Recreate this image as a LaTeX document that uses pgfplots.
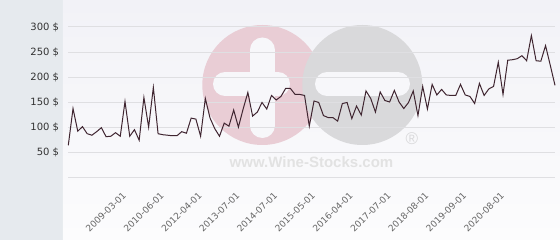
\documentclass[border=0pt]{standalone}
\usepackage{pgfplots}
\pgfplotsset{compat=1.18}
\usepackage{fontspec}
\setmainfont{DejaVu Sans}
\newfontfamily\wmfont{Liberation Sans}
\definecolor{panel}{HTML}{E6EAEE}
\definecolor{bgtop}{HTML}{F2F2F7}
\definecolor{bgbot}{HTML}{FCFCFD}
\definecolor{wmpink}{HTML}{E9CDD5}
\definecolor{wmgray}{HTML}{D9D9DB}
\definecolor{wmbar}{HTML}{F7F7FA}
\definecolor{wmtext}{HTML}{E2E2E2}
\definecolor{gridc}{HTML}{DFDFE2}
\definecolor{linec}{HTML}{3F2530}
\definecolor{ylab}{HTML}{333333}
\definecolor{xlab}{HTML}{666666}
\pgfplotstableread{
i v
1 65
2 138
3 93
4 102
5 88
6 85
7 92
8 100
9 82
10 83
11 90
12 83
13 152
14 83
15 96
16 75
17 160
18 101
19 180
20 88
21 86
22 85
23 84
24 84
25 92
26 89
27 119
28 117
29 83
30 158
31 119
32 98
33 83
34 109
35 103
36 135
37 101
38 137
39 170
40 123
41 131
42 150
43 137
44 164
45 155
46 162
47 178
48 178
49 166
50 166
51 164
52 103
53 153
54 150
55 124
56 120
57 120
58 113
59 148
60 150
61 118
62 143
63 125
64 173
65 158
66 131
67 171
68 154
69 151
70 174
71 151
72 138
73 150
74 173
75 124
76 182
77 137
78 186
79 165
80 176
81 165
82 164
83 164
84 186
85 165
86 162
87 148
88 188
89 164
90 177
91 182
92 230
93 166
94 234
95 235
96 237
97 243
98 233
99 283
100 233
101 232
102 263
103 224
104 184
}\prices
\begin{document}
\begin{tikzpicture}[x=1pt,y=1pt]
\useasboundingbox (-68.3,-62) rectangle (491.7,178);
% backgrounds
\fill[panel] (-68.3,-62) rectangle (-5.3,178);
\fill[top color=bgtop, bottom color=bgbot] (-5.3,-62) rectangle (491.7,178);
% watermark
\fill[wmpink] (194,93) circle[radius=60];
\fill[wmgray] (294,93) circle[radius=60];
\draw[wmbar, line width=25pt, line cap=round] (194,52.5) -- (194,128);
\draw[wmbar, line width=24pt, line cap=round] (156.7,94) -- (209.7,94);
\draw[wmbar, line width=24pt, line cap=round] (258.7,94) -- (329.7,94);
\node[text=wmtext, font=\wmfont\bfseries\fontsize{15}{18}\selectfont] at (243.2,16) {www.Wine-Stocks.com};
\node[text=wmgray, font=\wmfont\fontsize{17}{20}\selectfont] at (343.7,39) {®};
\begin{axis}[
  at={(0,0)}, anchor=south west,
  scale only axis,
  width=486.7pt, height=151pt,
  xmin=1, xmax=104,
  ymin=0, ymax=300,
  clip=false,
  axis line style={draw=none},
  major tick length=0pt,
  ymajorgrids,
  grid style={gridc, line width=1pt},
  ytick={0,50,100,150,200,250,300},
  yticklabels={,50 \$,100 \$,150 \$,200 \$,250 \$,300 \$},
  yticklabel style={font=\fontsize{10}{12}\selectfont, text=ylab, anchor=east, inner sep=0pt, xshift=-9pt},
  xtick={13,21,29,37,45,53,61,69,77,85,93},
  xticklabels={2009-03-01,2010-06-01,2012-04-01,2013-07-01,2014-07-01,2015-05-01,2016-04-01,2017-07-01,2018-08-01,2019-09-01,2020-08-01},
  xticklabel style={font=\fontsize{9}{11}\selectfont, text=xlab, xshift=-3pt, yshift=-13pt, rotate=45, anchor=north east, inner sep=0pt},
]
\addplot[linec, line width=1pt, mark=none, line join=miter] table[x=i, y=v] {\prices};
\end{axis}
\end{tikzpicture}
\end{document}
